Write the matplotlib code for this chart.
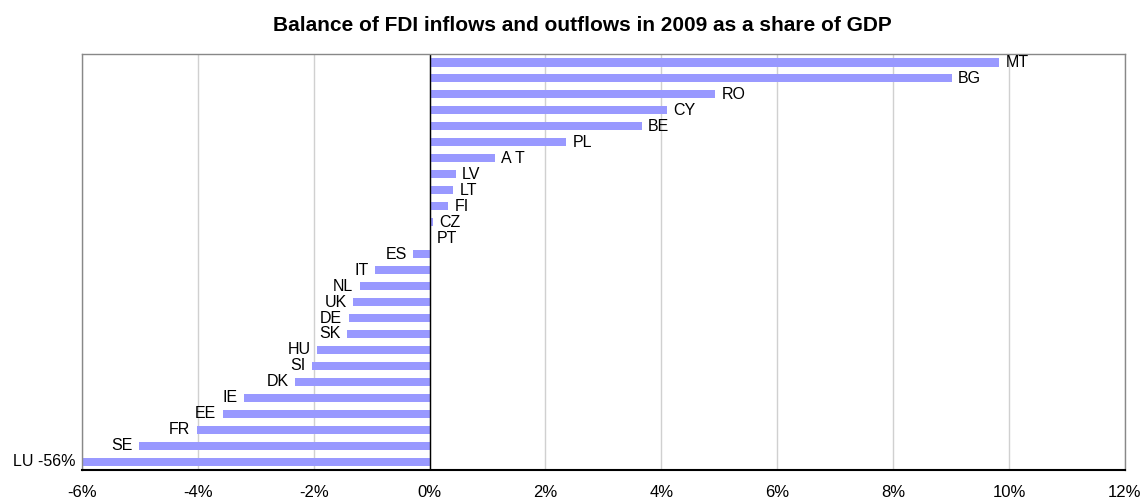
import matplotlib
matplotlib.use('Agg')
import matplotlib.pyplot as plt
import matplotlib.ticker as ticker

plt.rcParams['font.family'] = ['Liberation Sans', 'DejaVu Sans']

# countries, top to bottom
countries = ['MT', 'BG', 'RO', 'CY', 'BE', 'PL', 'AT', 'LV', 'LT', 'FI', 'CZ', 'PT',
             'ES', 'IT', 'NL', 'UK', 'DE', 'SK', 'HU', 'SI', 'DK', 'IE', 'EE', 'FR',
             'SE', 'LU']
# balance of FDI in/outflows, % of GDP
balance = [9.83, 9.01, 4.93, 4.10, 3.66, 2.36, 1.12, 0.45, 0.41, 0.32, 0.06, 0.02,
           -0.28, -0.94, -1.21, -1.32, -1.40, -1.43, -1.94, -2.03, -2.32, -3.21, -3.57,
           -4.02, -5.01, -56.0]
labels = ['MT', 'BG', 'RO', 'CY', 'BE', 'PL', 'A T', 'LV', 'LT', 'FI', 'CZ', 'PT',
          'ES', 'IT', 'NL', 'UK', 'DE', 'SK', 'HU', 'SI', 'DK', 'IE', 'EE', 'FR',
          'SE', 'LU -56%']
xticks = [-6, -4, -2, 0, 2, 4, 6, 8, 10, 12]

fig = plt.figure(figsize=(11.42, 5.01), dpi=100)
ax = fig.add_axes([0.0718, 0.062, 0.9132, 0.830])

n = len(countries)
ypos = list(range(n))[::-1]
ax.barh(ypos, balance, height=0.55, color='#9999FF', zorder=2)

xmin, xmax = -6, 12
for y, v, lab in zip(ypos, balance, labels):
    if v >= 0:
        ax.text(v + 0.11, y, lab, ha='left', va='center', fontsize=11.5, zorder=3)
    else:
        xv = max(v, xmin)
        ax.text(xv - 0.11, y, lab, ha='right', va='center', fontsize=11.5,
                zorder=3, clip_on=False)

ax.set_xlim(xmin, xmax)
ax.set_ylim(-0.5, n - 0.5)
ax.xaxis.set_major_locator(ticker.FixedLocator(xticks))
ax.xaxis.set_major_formatter(ticker.FuncFormatter(lambda x, p: '%d%%' % x))
ax.tick_params(axis='x', length=0, pad=11, labelsize=12)
ax.set_yticks([])
ax.grid(axis='x', color='#d0d0d0', linewidth=1, zorder=0)
ax.axvline(0, color='black', linewidth=1, zorder=2.5)

for s in ['top', 'right', 'left']:
    ax.spines[s].set_color('#888888')
    ax.spines[s].set_linewidth(1)
ax.spines['bottom'].set_color('black')
ax.spines['bottom'].set_linewidth(1.5)

fig.text(0.51, 0.95, 'Balance of FDI inflows and outflows in 2009 as a share of GDP',
         ha='center', va='center', fontsize=15, fontweight='bold')

fig.savefig('out.png', dpi=100)
